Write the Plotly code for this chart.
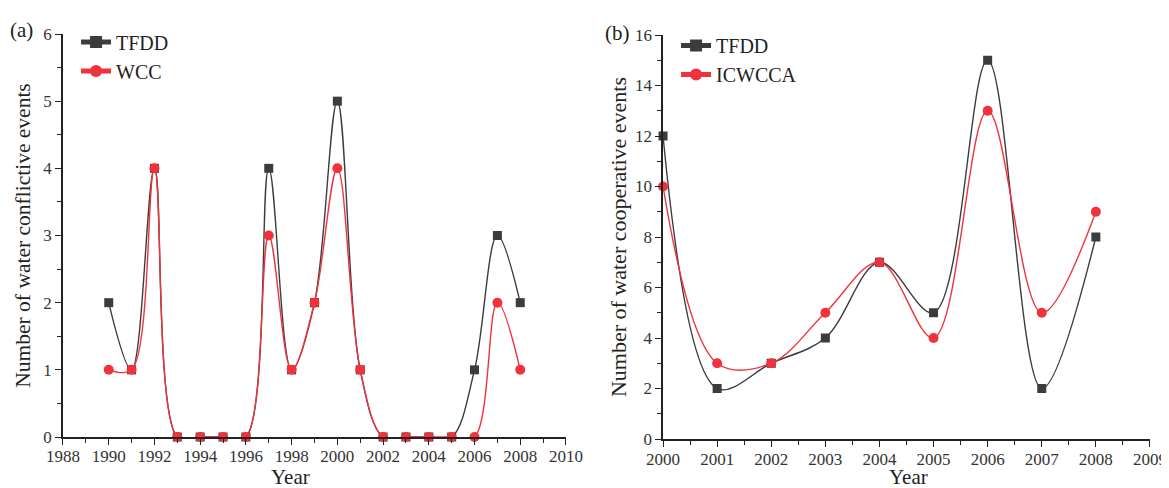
import plotly.graph_objects as go

years_a = list(range(1990, 2009))
tfdd_a = [2, 1, 4, 0, 0, 0, 0, 4, 1, 2, 5, 1, 0, 0, 0, 0, 1, 3, 2]
wcc_a = [1, 1, 4, 0, 0, 0, 0, 3, 1, 2, 4, 1, 0, 0, 0, 0, 0, 2, 1]

years_b = list(range(2000, 2009))
tfdd_b = [12, 2, 3, 4, 7, 5, 15, 2, 8]
icwcca_b = [10, 3, 3, 5, 7, 4, 13, 5, 9]

GRAY = "#3c3c3c"
RED = "#f0323c"
FONT = "Liberation Serif"

fig = go.Figure()

def add(x, y, name, color, symbol, xa, ya, legend, size):
    fig.add_trace(go.Scatter(
        x=x, y=y, name=name, mode="lines+markers",
        line=dict(color=color, width=1.4, shape="spline", smoothing=1.0),
        marker=dict(symbol=symbol, size=size, color=color),
        xaxis=xa, yaxis=ya, legend=legend, cliponaxis=False))

add(years_a, tfdd_a, "TFDD", GRAY, "square", "x", "y", "legend", 9)
add(years_a, wcc_a, "WCC", RED, "circle", "x", "y", "legend", 10)
add(years_b, tfdd_b, "TFDD", GRAY, "square", "x2", "y2", "legend2", 9)
add(years_b, icwcca_b, "ICWCCA", RED, "circle", "x2", "y2", "legend2", 10)

axis_common = dict(showline=True, linecolor="#222", linewidth=1.5, ticks="outside",
                   ticklen=6, tickwidth=1.3, tickcolor="#222", showgrid=False, zeroline=False,
                   automargin=False, ticklabeloverflow="allow",
                   tickfont=dict(family=FONT, size=17, color="#333"))

fig.update_layout(
    width=1161, height=480, plot_bgcolor="white", paper_bgcolor="white",
    margin=dict(l=0, r=0, t=0, b=0),
    xaxis=dict(domain=[0.04737, 0.4806], range=[1988, 2010], dtick=2, anchor="y",
               ticklabelstandoff=-3,
               minor=dict(dtick=1, ticks="outside", ticklen=4, tickcolor="#222"),
               **axis_common),
    yaxis=dict(domain=[0.10625, 0.94583], range=[0, 6], dtick=1, anchor="x",
               minor=dict(dtick=0.5, ticks="outside", ticklen=4, tickcolor="#222"),
               title=dict(text="Number of water conflictive events", standoff=7,
                          font=dict(family=FONT, size=21.5, color="#222")), **axis_common),
    xaxis2=dict(domain=[0.5642, 0.9836], range=[2000, 2009], dtick=1, anchor="y2",
                ticklabelstandoff=-2,
                minor=dict(dtick=0.5, ticks="outside", ticklen=4, tickcolor="#222"),
                **axis_common),
    yaxis2=dict(domain=[0.10208, 0.94375], range=[0, 16], dtick=2, anchor="x2",
                minor=dict(dtick=1, ticks="outside", ticklen=4, tickcolor="#222"),
                title=dict(text="Number of water cooperative events", standoff=2,
                           font=dict(family=FONT, size=22, color="#222")), **axis_common),
    legend=dict(x=0.0586, y=0.97, xanchor="left", yanchor="top", bgcolor="rgba(0,0,0,0)",
                font=dict(family=FONT, size=20, color="#222"), tracegroupgap=0, itemsizing="constant"),
    legend2=dict(x=0.5754, y=0.9625, xanchor="left", yanchor="top", bgcolor="rgba(0,0,0,0)",
                 font=dict(family=FONT, size=20, color="#222"), tracegroupgap=0, itemsizing="constant"),
    annotations=[
        dict(text="(a)", x=0.0, y=0.9542, xref="paper", yref="paper", showarrow=False,
             xanchor="left", yanchor="middle", font=dict(family=FONT, size=21, color="#222")),
        dict(text="(b)", x=0.5125, y=0.9479, xref="paper", yref="paper", showarrow=False,
             xanchor="left", yanchor="middle", font=dict(family=FONT, size=21, color="#222")),
        dict(text="Year", x=0.2429, y=0.0229, xref="paper", yref="paper", showarrow=False,
             xanchor="center", yanchor="middle", font=dict(family=FONT, size=21, color="#222")),
        dict(text="Year", x=0.776, y=0.0229, xref="paper", yref="paper", showarrow=False,
             xanchor="center", yanchor="middle", font=dict(family=FONT, size=21, color="#222")),
    ],
)

fig.write_html("out.html")
